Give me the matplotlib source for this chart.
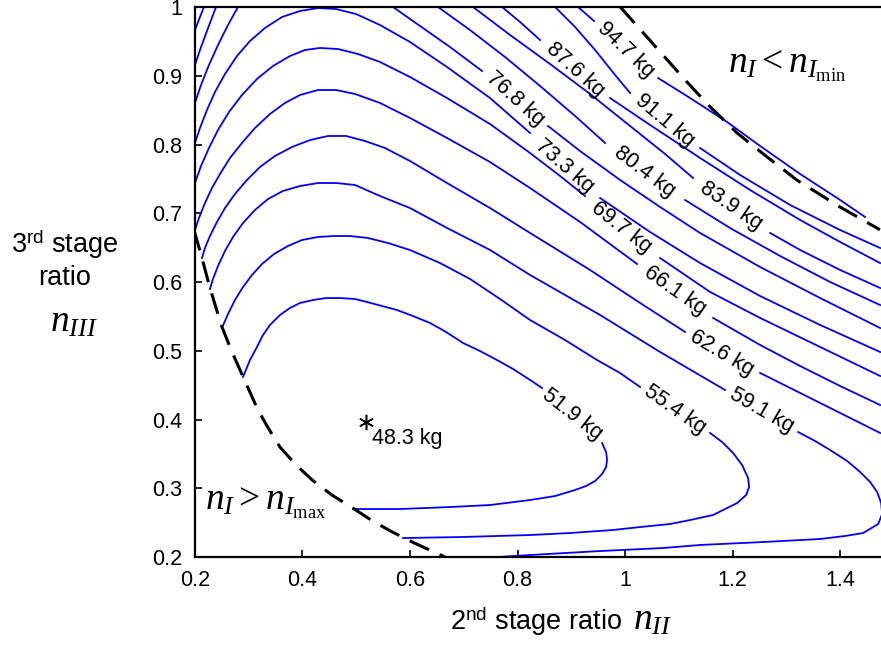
import numpy as np
import matplotlib
matplotlib.use("Agg")
import matplotlib.pyplot as plt

plt.rcParams["font.family"] = ["Liberation Sans", "DejaVu Sans"]
plt.rcParams["mathtext.fontset"] = "custom"
plt.rcParams["mathtext.rm"] = "Liberation Serif"
plt.rcParams["mathtext.it"] = "Liberation Serif:italic"
plt.rcParams["mathtext.sf"] = "Liberation Sans"

nan = np.nan

# contour lines (n_II, n_III), nan = label gap
levels = ["51.9", "55.4", "59.1", "62.6", "66.1", "69.7", "73.3",
          "76.8", "80.4", "83.9", "87.6", "91.1", "94.7"]

x_519 = [0.2893, 0.3023, 0.3153, 0.3265, 0.3395, 0.3581, 0.3767, 0.3953, 0.4195, 0.4437, 0.4698, 0.4977,
         0.5200, 0.5479, 0.5758, 0.6056, 0.6372, 0.6670, 0.6986, 0.7302, 0.7619, 0.7916, 0.8233, 0.8456, nan,
         0.9572, 0.9647, 0.9665, 0.9647, 0.9572, 0.9442, 0.9274, 0.9070, 0.8698, 0.8233, 0.7488, 0.6744,
         0.5814, 0.4940]
y_519 = [0.4618, 0.4865, 0.5055, 0.5229, 0.5375, 0.5520, 0.5622, 0.5695, 0.5738, 0.5767, 0.5767, 0.5753,
         0.5709, 0.5651, 0.5593, 0.5505, 0.5404, 0.5273, 0.5113, 0.4996, 0.4865, 0.4735, 0.4575, 0.4458, nan,
         0.3658, 0.3527, 0.3411, 0.3309, 0.3207, 0.3105, 0.3033, 0.2975, 0.2887, 0.2829, 0.2756, 0.2727,
         0.2698, 0.2698]

x_554 = [0.2502, 0.2614, 0.2744, 0.2893, 0.3060, 0.3247, 0.3470, 0.3730, 0.3991, 0.4288, 0.4586, 0.4884,
         0.5219, 0.5591, 0.6000, 0.6558, 0.7116, 0.7674, 0.8233, 0.8884, 0.9479, 0.9907, 1.0279, nan,
         1.1581, 1.1805, 1.2009, 1.2177, 1.2288, 1.2307, 1.2251, 1.2084, 1.1860, 1.1637, 1.1209, 1.0837,
         1.0279, 0.9777, 0.8977, 0.8233, 0.6986, 0.5870]
y_554 = [0.5331, 0.5535, 0.5738, 0.5927, 0.6102, 0.6262, 0.6407, 0.6524, 0.6611, 0.6655, 0.6669, 0.6669,
         0.6640, 0.6567, 0.6465, 0.6276, 0.6044, 0.5753, 0.5447, 0.5156, 0.4865, 0.4676, 0.4473, nan,
         0.3804, 0.3673, 0.3513, 0.3338, 0.3149, 0.3018, 0.2902, 0.2785, 0.2698, 0.2611, 0.2538, 0.2480,
         0.2436, 0.2393, 0.2349, 0.2320, 0.2291, 0.2276]

x_591 = [0.2279, 0.2335, 0.2428, 0.2558, 0.2707, 0.2893, 0.3116, 0.3358, 0.3637, 0.3953, 0.4288, 0.4623,
         0.4977, 0.5442, 0.6000, 0.6688, 0.7488, 0.8233, 0.9535, 1.0651, 1.1860, nan,
         1.3219, 1.3535, 1.3814, 1.4130, 1.4372, 1.4558, 1.4688, 1.4763, 1.4781, 1.4707, 1.4428, 1.4093,
         1.3628, 1.2567, 1.1395, 1.0707, 0.9535, 0.8233, 0.7637]
y_591 = [0.5898, 0.6044, 0.6233, 0.6451, 0.6655, 0.6858, 0.7047, 0.7207, 0.7324, 0.7396, 0.7440, 0.7440,
         0.7411, 0.7251, 0.7076, 0.6786, 0.6466, 0.6102, 0.5520, 0.4982, 0.4429, nan,
         0.3818, 0.3687, 0.3556, 0.3397, 0.3236, 0.3091, 0.2946, 0.2786, 0.2625, 0.2480, 0.2349, 0.2306,
         0.2262, 0.2218, 0.2175, 0.2131, 0.2087, 0.2029, 0.2000]

x_626 = [0.2130, 0.2186, 0.2279, 0.2409, 0.2558, 0.2744, 0.2967, 0.3209, 0.3488, 0.3805, 0.4140, 0.4474,
         0.4809, 0.5163, 0.5535, 0.6000, 0.6688, 0.7488, 0.8233, 0.9349, 1.0279, 1.1116, nan,
         1.2512, 1.3256, 1.4000, 1.4744]
y_626 = [0.6349, 0.6495, 0.6669, 0.6873, 0.7076, 0.7280, 0.7484, 0.7673, 0.7833, 0.7964, 0.8065, 0.8124,
         0.8124, 0.8051, 0.7949, 0.7760, 0.7440, 0.7076, 0.6713, 0.6175, 0.5695, 0.5273, nan,
         0.4677, 0.4386, 0.4095, 0.3804]

x_661 = [0.2000, 0.2074, 0.2186, 0.2316, 0.2465, 0.2651, 0.2874, 0.3116, 0.3395, 0.3674, 0.3953, 0.4288,
         0.4623, 0.4977, 0.5442, 0.6000, 0.6688, 0.7488, 0.8233, 0.9163, 1.0223, nan,
         1.1637, 1.2512, 1.3256, 1.4000, 1.4744]
y_661 = [0.6756, 0.6931, 0.7149, 0.7367, 0.7571, 0.7804, 0.8022, 0.8240, 0.8444, 0.8604, 0.8720, 0.8793,
         0.8793, 0.8735, 0.8604, 0.8386, 0.8095, 0.7745, 0.7367, 0.6873, 0.6262, nan,
         0.5477, 0.5084, 0.4778, 0.4487, 0.4211]

x_697 = [0.2000, 0.2112, 0.2260, 0.2428, 0.2633, 0.2874, 0.3153, 0.3451, 0.3767, 0.4047, 0.4326, 0.4660,
         0.5033, 0.5442, 0.6000, 0.6688, 0.7488, 0.8233, 0.8791, 0.9256, nan,
         1.0651, 1.1581, 1.2512, 1.3628, 1.4744]
y_697 = [0.7440, 0.7687, 0.7949, 0.8211, 0.8473, 0.8720, 0.8953, 0.9142, 0.9287, 0.9375, 0.9404, 0.9389,
         0.9316, 0.9200, 0.8982, 0.8676, 0.8298, 0.7876, 0.7542, 0.7251, nan,
         0.6349, 0.5855, 0.5477, 0.5055, 0.4633]

x_733 = [0.2000, 0.2093, 0.2223, 0.2372, 0.2558, 0.2781, 0.3023, 0.3302, 0.3619, 0.3953, 0.4288, 0.4623,
         0.4995, 0.5442, 0.6000, 0.6688, 0.7488, 0.8233, nan,
         0.9535, 1.0465, 1.1395, 1.2512, 1.3628, 1.4744]
y_733 = [0.8022, 0.8240, 0.8502, 0.8764, 0.9025, 0.9287, 0.9505, 0.9695, 0.9855, 0.9942, 0.9985, 0.9971,
         0.9898, 0.9738, 0.9491, 0.9127, 0.8676, 0.8167, nan,
         0.7222, 0.6727, 0.6276, 0.5796, 0.5375, 0.4982]

x_768 = [0.2000, 0.2112, 0.2260, 0.2428, 0.2614, 0.2800, nan, 0.5684, 0.6186, 0.6744, 0.7340, nan,
         0.8567, 0.9163, 0.9907, 1.0651, 1.1395, 1.2512, 1.3628, 1.4744]
y_768 = [0.8604, 0.8865, 0.9156, 0.9447, 0.9738, 1.0000, nan, 1.0000, 0.9724, 0.9418, 0.9069, nan,
         0.8269, 0.7905, 0.7484, 0.7091, 0.6713, 0.6218, 0.5767, 0.5331]

x_804 = [0.2000, 0.2093, 0.2223, 0.2391, nan, 0.6521, 0.7116, 0.7767, 0.8419, 0.9070, 0.9628, nan,
         1.1116, 1.1953, 1.2884, 1.3814, 1.4744]
y_804 = [0.9156, 0.9375, 0.9651, 1.0000, nan, 1.0000, 0.9665, 0.9273, 0.8851, 0.8415, 0.8022, nan,
         0.7193, 0.6785, 0.6378, 0.6000, 0.5665]

x_839 = [0.2000, 0.2093, 0.2167, nan, 0.7172, 0.7860, 0.8605, 0.9349, 1.0093, 1.0744, 1.1265, nan,
         1.2698, 1.3256, 1.4000, 1.4744]
y_839 = [0.9665, 0.9855, 1.0000, nan, 1.0000, 0.9593, 0.9171, 0.8735, 0.8269, 0.7862, 0.7513, nan,
         0.6713, 0.6466, 0.6175, 0.5913]

x_876 = [0.7712, 0.8047, 0.8419, nan, 0.9721, 1.0465, 1.1395, 1.2326, 1.3256, 1.4000, 1.4744]
y_876 = [1.0000, 0.9782, 0.9520, nan, 0.8676, 0.8284, 0.7804, 0.7338, 0.6902, 0.6582, 0.6276]

x_911 = [0.8698, 0.9070, 0.9442, 0.9814, 1.0093, nan, 1.1395, 1.2140, 1.3070, 1.4000, 1.4744]
y_911 = [1.0000, 0.9709, 0.9375, 0.9011, 0.8749, nan, 0.7949, 0.7556, 0.7120, 0.6756, 0.6495]

x_947 = [0.9126, 0.9274, 0.9423, nan, 1.0614, 1.1209, 1.1898, 1.2512, 1.3256, 1.4000, 1.4465]
y_947 = [1.0000, 0.9898, 0.9796, nan, 0.8967, 0.8676, 0.8327, 0.7978, 0.7571, 0.7193, 0.6945]

curves_x = [x_519, x_554, x_591, x_626, x_661, x_697, x_733, x_768, x_804, x_839, x_876, x_911, x_947]
curves_y = [y_519, y_554, y_591, y_626, y_661, y_697, y_733, y_768, y_804, y_839, y_876, y_911, y_947]

# label positions and angles on each line
label_x = [0.901, 1.092, 1.254, 1.180, 1.093, 0.993, 0.888, 0.795, 1.037, 1.198, 0.907, 1.074, 1.002]
label_y = [0.407, 0.414, 0.413, 0.497, 0.587, 0.679, 0.768, 0.866, 0.760, 0.711, 0.909, 0.835, 0.938]
label_rot = [-38, -35, -30, -31, -35, -38, -41, -42, -37, -34, -42, -40, -44]

# feasibility boundaries
low_x = [0.198, 0.213, 0.228, 0.250, 0.269, 0.289, 0.317, 0.336, 0.358, 0.388, 0.418, 0.455,
         0.494, 0.531, 0.568, 0.609, 0.637, 0.665]
low_y = [0.676, 0.635, 0.591, 0.535, 0.498, 0.463, 0.414, 0.388, 0.360, 0.334, 0.312, 0.290,
         0.271, 0.252, 0.236, 0.220, 0.210, 0.200]
up_x = [0.991, 1.032, 1.074, 1.115, 1.158, 1.208, 1.264, 1.320, 1.400, 1.474]
up_y = [1.000, 0.964, 0.927, 0.891, 0.855, 0.817, 0.782, 0.748, 0.709, 0.676]

# optimum
opt_x, opt_y, opt_mass = 0.518, 0.396, "48.3"

fig = plt.figure(figsize=(8.81, 6.55), dpi=100)
ax = fig.add_axes([0.2213, 0.1496, 0.7787, 0.8397])

for cx, cy in zip(curves_x, curves_y):
    ax.plot(cx, cy, color="#0000ff", lw=1.3, solid_joinstyle="round")

for lv, lx, ly, lr in zip(levels, label_x, label_y, label_rot):
    ax.text(lx, ly, lv + " kg", fontsize=15.5, rotation=lr, rotation_mode="anchor",
            ha="center", va="center")

ax.plot(low_x, low_y, color="black", lw=2.2, linestyle=(0, (7, 3.8)))
ax.plot(up_x, up_y, color="black", lw=2.2, linestyle=(0, (7, 3.8)))

ax.plot(opt_x, opt_y, marker=(6, 2, 0), color="black", ms=11, mew=1.1)
ax.text(0.5293, 0.3731, opt_mass + " kg", fontsize=15.5, ha="left", va="center")

ax.text(1.1916, 0.904, r"$n_I < n_{I_{\mathrm{min}}}$", fontsize=27, ha="left", va="baseline")
ax.text(0.2186, 0.2684, r"$n_I > n_{I_{\mathrm{max}}}$", fontsize=27, ha="left", va="baseline")

ax.set_xlim(0.2, 1.476)
ax.set_ylim(0.2, 1.0)
ax.set_xticks([0.2, 0.4, 0.6, 0.8, 1.0, 1.2, 1.4])
ax.set_xticklabels(["0.2", "0.4", "0.6", "0.8", "1", "1.2", "1.4"])
ax.set_yticks([0.2, 0.3, 0.4, 0.5, 0.6, 0.7, 0.8, 0.9, 1.0])
ax.set_yticklabels(["0.2", "0.3", "0.4", "0.5", "0.6", "0.7", "0.8", "0.9", "1"])
ax.tick_params(direction="in", length=5, width=1.2, labelsize=15.5, pad=9)
for s in ["left", "bottom", "top"]:
    ax.spines[s].set_linewidth(1.6)
ax.spines["right"].set_visible(False)

fig.text(0.0738, 0.6137, r"3$^{\mathsf{rd}}$ stage", fontsize=19.5, ha="center", va="baseline")
fig.text(0.0738, 0.5649, "ratio", fontsize=19.5, ha="center", va="baseline")
fig.text(0.0568, 0.4931, r"$n_{III}$", fontsize=27, ha="left", va="baseline")
fig.text(0.5108, 0.0382, r"2$^{\mathsf{nd}}$ stage ratio", fontsize=19.5, ha="left", va="baseline")
fig.text(0.7185, 0.0382, r"$n_{II}$", fontsize=27, ha="left", va="baseline")

fig.savefig("out.png", dpi=100)
